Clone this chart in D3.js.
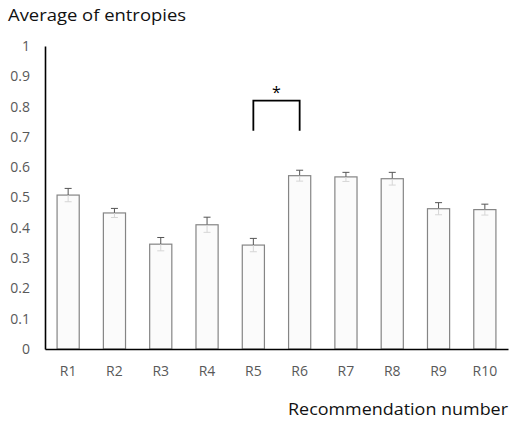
<!DOCTYPE html>
<html>
<head>
<meta charset="utf-8">
<script src="https://cdn.jsdelivr.net/npm/d3@7"></script>
<style>
  html, body { margin: 0; padding: 0; background: #fff; }
  svg { display: block; }
</style>
</head>
<body>
<svg id="chart" width="511" height="422"></svg>
<script>
// Mean entropy per recommendation with standard-error bars
const categories = ["R1", "R2", "R3", "R4", "R5", "R6", "R7", "R8", "R9", "R10"];
const means = [0.508, 0.449, 0.346, 0.410, 0.343, 0.572, 0.568, 0.562, 0.463, 0.460];
const errors = [0.022, 0.015, 0.022, 0.025, 0.022, 0.018, 0.015, 0.021, 0.020, 0.018];
const yTicks = [0, 0.1, 0.2, 0.3, 0.4, 0.5, 0.6, 0.7, 0.8, 0.9, 1];
const yTickLabels = ["0", "0.1", "0.2", "0.3", "0.4", "0.5", "0.6", "0.7", "0.8", "0.9", "1"];
// Significant pair and bracket height
const sigPair = ["R5", "R6"];
const sigTop = 0.82, sigBottom = 0.72;

const font = "'Open Sans', 'Noto Sans', sans-serif";
const svg = d3.select("#chart");
const plotLeft = 45, plotRight = 508, plotTop = 46, plotBottom = 349;

const x = d3.scaleBand().domain(categories).range([plotLeft, plotRight]).paddingInner(0.5).paddingOuter(0.25);
const y = d3.scaleLinear().domain([0, 1]).range([plotBottom, plotTop]);

// Title
svg.append("text")
  .attr("x", 8).attr("y", 21)
  .attr("font-family", font).attr("font-size", 17).attr("fill", "#111")
  .attr("textLength", 178).attr("lengthAdjust", "spacingAndGlyphs")
  .text("Average of entropies");

// Bars
const bars = svg.append("g");
bars.selectAll("rect").data(categories).join("rect")
  .attr("x", d => x(d) + 0.5)
  .attr("y", (d, i) => y(means[i]))
  .attr("width", x.bandwidth() - 1)
  .attr("height", (d, i) => y(0) - y(means[i]))
  .attr("fill", "#fbfbfb")
  .attr("stroke", "#858585")
  .attr("stroke-width", 1.2);

// Error bars: upper whisker dark, lower whisker faint inside the bar
const eb = svg.append("g");
categories.forEach((c, i) => {
  const cx = x(c) + x.bandwidth() / 2;
  const yt = y(means[i] + errors[i]);
  const yb = y(means[i] - errors[i]);
  const ym = y(means[i]);
  eb.append("line").attr("x1", cx).attr("x2", cx).attr("y1", yt).attr("y2", ym)
    .attr("stroke", "#555").attr("stroke-width", 1);
  eb.append("line").attr("x1", cx - 3.5).attr("x2", cx + 3.5).attr("y1", yt).attr("y2", yt)
    .attr("stroke", "#555").attr("stroke-width", 1);
  eb.append("line").attr("x1", cx).attr("x2", cx).attr("y1", ym).attr("y2", yb)
    .attr("stroke", "#d6d6d6").attr("stroke-width", 1);
  eb.append("line").attr("x1", cx - 3.5).attr("x2", cx + 3.5).attr("y1", yb).attr("y2", yb)
    .attr("stroke", "#d6d6d6").attr("stroke-width", 1);
});

// Y axis
const yAxis = svg.append("g").attr("transform", `translate(${plotLeft},0)`)
  .call(d3.axisLeft(y).tickValues(yTicks).tickFormat((d, i) => yTickLabels[i]).tickSize(0).tickPadding(15));
yAxis.select(".domain").attr("stroke", "#000").attr("stroke-width", 1.6);
yAxis.selectAll("text").attr("font-family", font).attr("font-size", 14).attr("fill", "#595959");

// X axis
const xAxis = svg.append("g").attr("transform", `translate(0,${plotBottom})`)
  .call(d3.axisBottom(x).tickSize(0).tickPadding(17));
xAxis.select(".domain").attr("stroke", "#000").attr("stroke-width", 1.6);
xAxis.selectAll("text").attr("font-family", font).attr("font-size", 14).attr("fill", "#595959");

// X axis title
svg.append("text")
  .attr("x", 288).attr("y", 415)
  .attr("font-family", font).attr("font-size", 17).attr("fill", "#111")
  .attr("textLength", 220).attr("lengthAdjust", "spacingAndGlyphs")
  .text("Recommendation number");

// Significance bracket
const bx1 = x(sigPair[0]) + x.bandwidth() / 2;
const bx2 = x(sigPair[1]) + x.bandwidth() / 2;
svg.append("path")
  .attr("d", `M${bx1},${y(sigBottom)}V${y(sigTop)}H${bx2}V${y(sigBottom)}`)
  .attr("fill", "none").attr("stroke", "#000").attr("stroke-width", 1.8);
svg.append("text")
  .attr("x", (bx1 + bx2) / 2).attr("y", y(sigTop) - 3)
  .attr("text-anchor", "middle")
  .attr("font-family", font).attr("font-size", 16).attr("fill", "#000")
  .text("*");
</script>
</body>
</html>
